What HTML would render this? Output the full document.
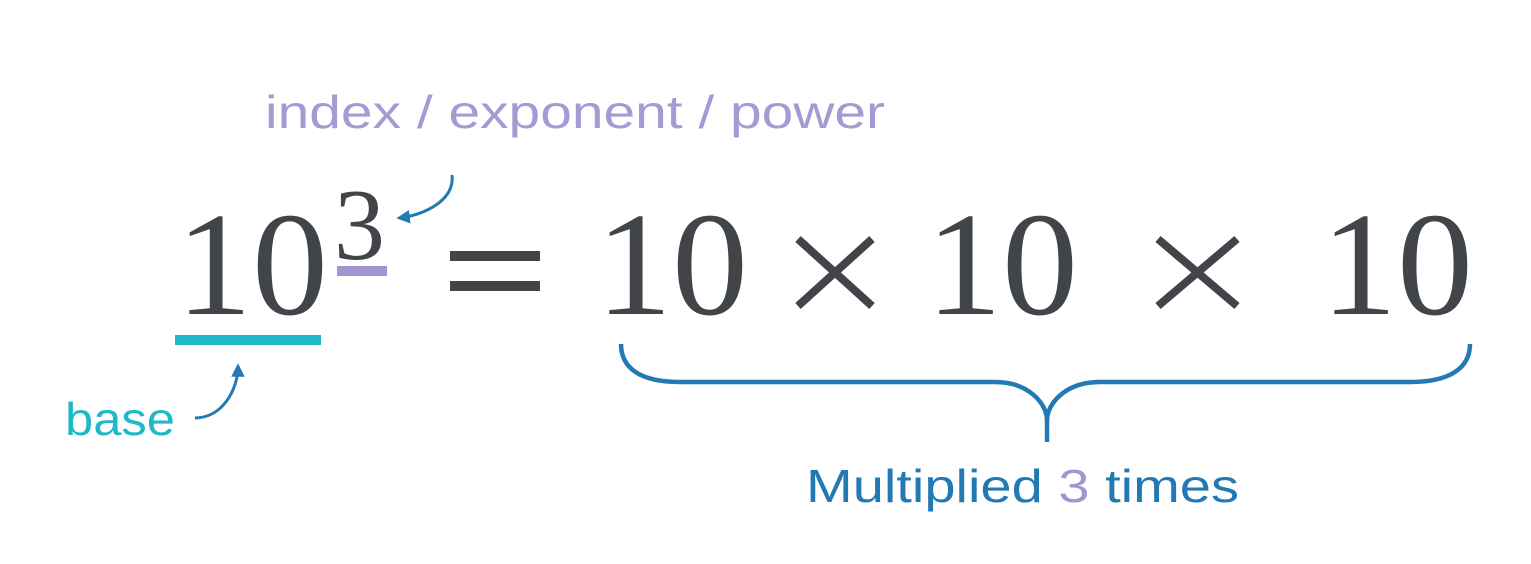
<!DOCTYPE html>
<html><head><meta charset="utf-8"><style>
html,body{margin:0;padding:0;background:#fff;width:1531px;height:564px;overflow:hidden}
svg{display:block}
</style></head><body>
<svg width="1531" height="564" viewBox="0 0 1531 564" xmlns="http://www.w3.org/2000/svg">
<defs>
<marker id="ah" viewBox="0 0 10 10" refX="8" refY="5" markerWidth="4.5" markerHeight="4.5" orient="auto"><path d="M0,0 L10,5 L0,10 z" fill="#2379b4"/></marker>
</defs>
<text x="265" y="128" font-family="Liberation Sans, sans-serif" font-size="46" fill="#a49bd3" textLength="620" lengthAdjust="spacingAndGlyphs">index / exponent / power</text>
<g font-family="Liberation Serif, serif" fill="#414549">
<text x="176" y="314" font-size="148" textLength="152" lengthAdjust="spacingAndGlyphs">10</text>
<text x="334" y="259" font-size="102">3</text>
<text x="596" y="314" font-size="148" textLength="152" lengthAdjust="spacingAndGlyphs">10</text>
<text x="926" y="314" font-size="148" textLength="152" lengthAdjust="spacingAndGlyphs">10</text>
<text x="1321" y="314" font-size="148" textLength="152" lengthAdjust="spacingAndGlyphs">10</text>
</g>
<rect x="337" y="266" width="50" height="10" fill="#a395d2"/>
<rect x="175" y="335" width="146" height="10" fill="#1fb8c9"/>
<rect x="450" y="251" width="90" height="10" fill="#414549"/>
<rect x="450" y="281" width="90" height="10" fill="#414549"/>
<g stroke="#414549" stroke-width="8">
<line x1="798" y1="239" x2="872" y2="306"/><line x1="872" y1="239" x2="798" y2="306"/>
<line x1="1158" y1="239" x2="1237" y2="306"/><line x1="1237" y1="239" x2="1158" y2="306"/>
</g>
<path d="M452,175 C455,200 425,215 399,218" fill="none" stroke="#2379b4" stroke-width="3" marker-end="url(#ah)"/>
<path d="M195,418 C222,418 238,390 238,366" fill="none" stroke="#2379b4" stroke-width="3" marker-end="url(#ah)"/>
<text x="65" y="435" font-family="Liberation Sans, sans-serif" font-size="46" fill="#1fb8c9" textLength="110" lengthAdjust="spacingAndGlyphs">base</text>
<path d="M621,344 C621,368 640,382 680,382 L995,382 C1030,382 1047,405 1047,420 C1047,405 1064,382 1100,382 L1410,382 C1450,382 1470,368 1470,344" fill="none" stroke="#2379b4" stroke-width="4.5"/>
<line x1="1047" y1="415" x2="1047" y2="442" stroke="#2379b4" stroke-width="4.5"/>
<text x="806" y="502" font-family="Liberation Sans, sans-serif" font-size="46" fill="#2379b4" textLength="433" lengthAdjust="spacingAndGlyphs">Multiplied <tspan fill="#a395d2">3</tspan> times</text>
</svg>
</body></html>
